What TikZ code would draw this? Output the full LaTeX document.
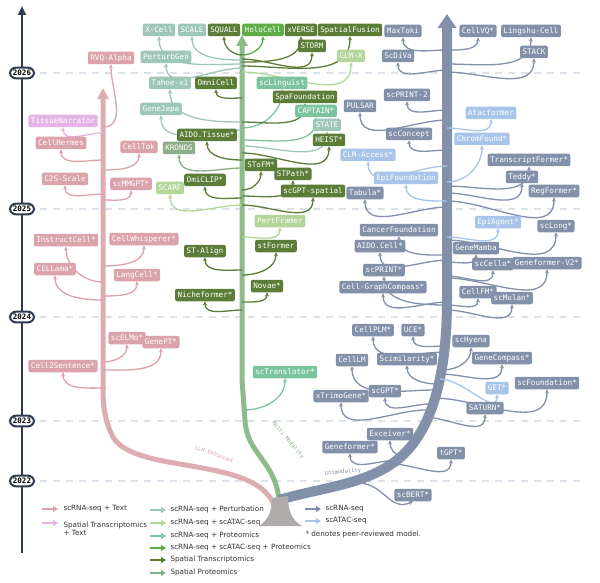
\documentclass[tikz,border=0pt]{standalone}
\usepackage{fontspec}
\setmainfont{DejaVu Sans}
\newfontfamily\boxfont{DejaVu Sans Mono}
\usetikzlibrary{arrows.meta}
\pgfdeclarelayer{back}
\pgfdeclarelayer{mid}
\pgfsetlayers{back,mid,main}
\definecolor{axc}{HTML}{2E3A52}
\definecolor{pk}{HTML}{DBA3AA}
\definecolor{pkt}{HTML}{DDADB2}
\definecolor{pv}{HTML}{E6B3E6}
\definecolor{pert}{HTML}{9EC7B8}
\definecolor{atac}{HTML}{B4D69A}
\definecolor{prot}{HTML}{7CC49E}
\definecolor{rap}{HTML}{5FAE45}
\definecolor{st}{HTML}{5C7D37}
\definecolor{sp}{HTML}{8AAE88}
\definecolor{gt}{HTML}{8DBB8A}
\definecolor{rna}{HTML}{8290AA}
\definecolor{ab}{HTML}{A8C5E9}
\definecolor{dashc}{HTML}{DDE1EA}
\definecolor{basec}{HTML}{B0ABAB}
\tikzset{
 box/.style={rounded corners=2pt,text=white,inner xsep=2.5pt,inner ysep=2pt,font=\boxfont\fontsize{7.6}{8}\selectfont,minimum height=12.5pt},
 br/.style={line width=1.3pt,-{Stealth[length=4pt,width=4pt]}},
 year/.style={draw=axc,line width=2pt,fill=white,rounded corners=6pt,font=\boxfont\bfseries\fontsize{7.5}{8}\selectfont,inner xsep=3pt,inner ysep=2.5pt},
 leg/.style={line width=2.2pt,-{Triangle[length=5pt,width=6pt]}},
 legt/.style={anchor=west,font=\fontsize{7.2}{8.5}\selectfont,text=black!80},
}
\newcommand\bL[4]{\coordinate (#1-t) at (#2,#3); \begin{pgfonlayer}{mid}\draw[br,#4] (#1-t) to[out=180,in=-90] (#1.south);\end{pgfonlayer}}
\newcommand\bR[4]{\coordinate (#1-t) at (#2,#3); \begin{pgfonlayer}{mid}\draw[br,#4] (#1-t) to[out=0,in=-90] (#1.south);\end{pgfonlayer}}
\begin{document}
\begin{tikzpicture}[x=1pt,y=-1pt]
\useasboundingbox (0,0) rectangle (600,583);
\begin{pgfonlayer}{back}
\fill[white] (0,0) rectangle (600,583);
\foreach \y in {73,209,317,421,481}{\draw[dashc,line width=1.8pt,dash pattern=on 7pt off 6pt] (40,\y) -- (585,\y);}
\end{pgfonlayer}
% axis
\coordinate (axb) at (22,553); \coordinate (axt) at (22,6);
\draw[axc,line width=2.5pt,-{Triangle[length=9pt,width=8pt]}] (axb) -- (axt);
\node[year] (y26) at (22,73) {2026};
\node[year] (y25) at (22,209) {2025};
\node[year] (y24) at (22,317) {2024};
\node[year] (y23) at (22,421) {2023};
\node[year] (y22) at (22,481) {2022};
% trunks
\coordinate (pkb) at (274,505); \coordinate (pktip) at (103,88);
\coordinate (gtb) at (279,500); \coordinate (gttip) at (242,35);
\coordinate (btb) at (279,500); \coordinate (bttip) at (447,14);
\begin{pgfonlayer}{mid}
\draw[pkt,line width=5pt,-{Triangle[length=11pt,width=11pt]}] (pkb) .. controls (255,455) and (130,475) .. (112,435) .. controls (104,418) and (103,405) .. (103,385) -- (pktip);
\draw[gt,line width=5pt,-{Triangle[length=11pt,width=11pt]}] (gtb) .. controls (275,460) and (247,455) .. (245,420) -- (242,380) -- (gttip);
\draw[rna,line width=10pt,-{Triangle[length=14pt,width=18pt]}] (btb) .. controls (320,488) and (360,485) .. (390,465) .. controls (430,440) and (447,380) .. (447,300) -- (bttip);
\fill[basec] (272,498) -- (288,496) .. controls (288,512) and (292,520) .. (302,526) -- (259,526) .. controls (268,520) and (272,512) .. (272,498) -- cycle;
\end{pgfonlayer}
% branch labels
\node[pk,rotate=-20,font=\boxfont\fontsize{5.5}{6}\selectfont] (lllm) at (214,454) {LLM Enhanced};
\node[sp,rotate=-50,font=\boxfont\fontsize{5.5}{6}\selectfont] (lmm) at (288,440) {Multi Modality};
\node[rna,rotate=5,font=\boxfont\fontsize{5.5}{6}\selectfont] (luni) at (343,472) {Unimodality};
% ---------------- pink
\node[box,fill=pk] (rvq) at (111,58) {RVQ-Alpha};
\node[box,fill=pv] (tn) at (63,121) {TissueNarrator};
\node[box,fill=pk] (ch) at (61,143) {CellHermes};
\node[box,fill=pk] (ctok) at (139,147) {CellTok};
\node[box,fill=pk] (c2s) at (65,179) {C2S-Scale};
\node[box,fill=pk] (mmg) at (131,184) {scMMGPT*};
\node[box,fill=pk] (ic) at (66,240) {InstructCell*};
\node[box,fill=pk] (cw) at (144,239) {CellWhisperer*};
\node[box,fill=pk] (cel) at (55,269) {CELLama*};
\node[box,fill=pk] (lc) at (137,275) {LangCell*};
\node[box,fill=pk] (elmo) at (127,338) {scELMo*};
\node[box,fill=pk] (gpt) at (161,342) {GenePT*};
\node[box,fill=pk] (c2sen) at (63,366) {Cell2Sentence*};
\bR{rvq}{103}{127}{pk}
\bL{tn}{103}{133}{pv}
\bL{ch}{103}{160}{pk}
\bR{ctok}{103}{170}{pk}
\bL{c2s}{103}{194}{pk}
\bR{mmg}{103}{200}{pk}
\bL{ic}{103}{282}{pk}
\bR{cw}{103}{266}{pk}
\bL{cel}{103}{300}{pk}
\bR{lc}{103}{296}{pk}
\bR{elmo}{103}{362}{pk}
\bR{gpt}{103}{370}{pk}
\bL{c2sen}{106}{388}{pk}
% ---------------- green
\node[box,fill=pert] (xc) at (159,30) {X-Cell};
\node[box,fill=pert] (scale) at (192,30) {SCALE};
\node[box,fill=st] (squall) at (224,30) {SQUALL};
\node[box,fill=rap] (holo) at (263,30) {HoloCell};
\node[box,fill=st] (xv) at (301,30) {xVERSE};
\node[box,fill=st] (sf) at (350,30) {SpatialFusion};
\node[box,fill=st] (storm) at (312,46) {STORM};
\node[box,fill=pert] (pgen) at (166,57) {PerturbGen};
\node[box,fill=atac] (clmx) at (351,56) {CLM-X};
\node[box,fill=pert] (tahoe) at (170,83) {Tahoe-x1};
\node[box,fill=st] (omni) at (216,83) {OmniCell};
\node[box,fill=prot] (ling) at (282,83) {scLinguist};
\node[box,fill=st] (spaf) at (305,97) {SpaFoundation};
\node[box,fill=pert] (gj) at (161,109) {GeneJepa};
\node[box,fill=prot] (capt) at (316,111) {CAPTAIN*};
\node[box,fill=pert] (state) at (327,125) {STATE};
\node[box,fill=st] (aido) at (207,135) {AIDO.Tissue*};
\node[box,fill=st] (heist) at (329,140) {HEIST*};
\node[box,fill=sp] (kron) at (179,148) {KRONOS};
\node[box,fill=st] (stofm) at (261,165) {SToFM*};
\node[box,fill=st] (stpath) at (293,174) {STPath*};
\node[box,fill=st] (oclip) at (205,180) {OmiCLIP*};
\node[box,fill=atac] (scarf) at (170,188) {SCARF};
\node[box,fill=st] (sgs) at (313,191) {scGPT-spatial};
\node[box,fill=atac] (pf) at (280,221) {PertFramer};
\node[box,fill=st] (sta) at (205,251) {ST-Align};
\node[box,fill=st] (stf) at (276,246) {stFormer};
\node[box,fill=st] (novae) at (267,286) {Novae*};
\node[box,fill=st] (niche) at (205,295) {Nicheformer*};
\node[box,fill=prot] (sctr) at (285,372) {scTranslator*};
\bL{xc}{242}{64}{pert}
\bL{scale}{242}{60}{pert}
\bL{squall}{242}{55}{st}
\bR{holo}{242}{55}{rap}
\bR{xv}{242}{62}{st}
\bR{sf}{242}{66}{st}
\bR{storm}{242}{59}{st}
\bL{pgen}{242}{68}{pert}
\bR{clmx}{242}{72}{atac}
\bL{tahoe}{242}{122}{pert}
\bL{omni}{242}{98}{st}
\bR{ling}{242}{128}{prot}
\bR{spaf}{242}{122}{st}
\bL{gj}{242}{130}{pert}
\bR{capt}{242}{140}{prot}
\bR{state}{242}{146}{pert}
\bL{aido}{242}{160}{st}
\bL{kron}{242}{168}{sp}
\bR{heist}{242}{153}{st}
\bR{stofm}{242}{190}{st}
\bR{stpath}{242}{196}{st}
\bL{oclip}{242}{198}{st}
\bL{scarf}{242}{205}{atac}
\bR{sgs}{242}{205}{st}
\bR{pf}{242}{237}{atac}
\bL{sta}{242}{270}{st}
\bR{stf}{242}{275}{st}
\bR{novae}{242}{302}{st}
\bL{niche}{242}{310}{st}
\bR{sctr}{244}{410}{prot}
% ---------------- blue
\node[box,fill=rna] (maxt) at (403,31) {MaxToki};
\node[box,fill=rna] (cvq) at (478,31) {CellVQ*};
\node[box,fill=rna] (ling2) at (531,31) {Lingshu-Cell};
\node[box,fill=rna] (sdv) at (398,56) {ScDiVa};
\node[box,fill=rna] (stack) at (534,52) {STACK};
\node[box,fill=rna] (spr2) at (407,95) {scPRINT-2};
\node[box,fill=rna] (puls) at (360,106) {PULSAR};
\node[box,fill=ab] (atf) at (491,113) {Atacformer};
\node[box,fill=rna] (scc) at (409,134) {scConcept};
\node[box,fill=ab] (chf) at (482,139) {ChromFound*};
\node[box,fill=ab] (clma) at (368,155) {CLM-Access*};
\node[box,fill=rna] (trf) at (529,160) {TranscriptFormer*};
\node[box,fill=rna] (teddy) at (522,177) {Teddy*};
\node[box,fill=ab] (epif) at (406,178) {EpiFoundation};
\node[box,fill=rna] (regf) at (554,191) {RegFormer*};
\node[box,fill=rna] (tab) at (365,193) {Tabula*};
\node[box,fill=ab] (epia) at (498,222) {EpiAgent*};
\node[box,fill=rna] (sclong) at (556,226) {scLong*};
\node[box,fill=rna] (canf) at (399,230) {CancerFoundation};
\node[box,fill=rna] (aidoc) at (380,246) {AIDO.Cell*};
\node[box,fill=rna] (gmam) at (476,248) {GeneMamba};
\node[box,fill=rna] (sccel) at (493,264) {scCello*};
\node[box,fill=rna] (gfv2) at (547,263) {Geneformer-V2*};
\node[box,fill=rna] (sprint) at (384,270) {scPRINT*};
\node[box,fill=rna] (cgc) at (383,287) {Cell-GraphCompass*};
\node[box,fill=rna] (cfm) at (478,292) {CellFM*};
\node[box,fill=rna] (mul) at (512,298) {scMulan*};
\node[box,fill=rna] (cplm) at (373,330) {CellPLM*};
\node[box,fill=rna] (uce) at (413,330) {UCE*};
\node[box,fill=rna] (hy) at (471,341) {scHyena};
\node[box,fill=rna] (clm) at (352,360) {CellLM};
\node[box,fill=rna] (scim) at (407,359) {Scimilarity*};
\node[box,fill=rna] (gc) at (502,358) {GeneCompass*};
\node[box,fill=ab] (get) at (497,388) {GET*};
\node[box,fill=rna] (scf) at (547,383) {scFoundation*};
\node[box,fill=rna] (scgpt) at (385,391) {scGPT*};
\node[box,fill=rna] (xtr) at (341,396) {xTrimoGene*};
\node[box,fill=rna] (sat) at (485,408) {SATURN*};
\node[box,fill=rna] (exc) at (390,434) {Exceiver*};
\node[box,fill=rna] (gf) at (350,447) {Geneformer*};
\node[box,fill=rna] (tgpt) at (451,453) {tGPT*};
\node[box,fill=rna] (bert) at (413,495) {scBERT*};
\bL{maxt}{447}{50}{rna}
\bR{cvq}{447}{50}{rna}
\bR{ling2}{447}{64}{rna}
\bL{sdv}{447}{70}{rna}
\bR{stack}{447}{72}{rna}
\bL{spr2}{447}{110}{rna}
\bL{puls}{447}{120}{rna}
\bR{atf}{447}{128}{ab}
\bL{scc}{447}{150}{rna}
\bR{chf}{447}{182}{ab}
\bL{clma}{447}{166}{ab}
\bR{trf}{447}{186}{rna}
\bR{teddy}{447}{193}{rna}
\bL{epif}{447}{201}{ab}
\bR{regf}{447}{201}{rna}
\bL{tab}{447}{207}{rna}
\bR{epia}{447}{237}{ab}
\bR{sclong}{447}{240}{rna}
\bL{canf}{447}{255}{rna}
\bL{aidoc}{447}{260}{rna}
\bR{gmam}{447}{262}{rna}
\bR{sccel}{447}{276}{rna}
\bR{gfv2}{447}{278}{rna}
\bL{sprint}{447}{305}{rna}
\bL{cgc}{447}{302}{rna}
\bR{cfm}{447}{305}{rna}
\bR{mul}{447}{310}{rna}
\bL{cplm}{445}{352}{rna}
\bL{uce}{445}{346}{rna}
\bR{hy}{443}{370}{rna}
\bL{clm}{434}{390}{rna}
\bL{scim}{437}{384}{rna}
\bR{gc}{441}{374}{rna}
\bR{get}{440}{379}{ab}
\bR{scf}{434}{398}{rna}
\bL{scgpt}{430}{404}{rna}
\bL{xtr}{426}{410}{rna}
\bR{sat}{424}{417}{rna}
\bL{exc}{402}{456}{rna}
\bL{gf}{398}{460}{rna}
\bR{tgpt}{392}{464}{rna}
\coordinate (bert-t) at (360,483);
\begin{pgfonlayer}{mid}\draw[br,rna] (bert-t) .. controls (385,485) and (390,512) .. (bert.south);\end{pgfonlayer}
% ---------------- legend
\foreach \n/\c/\y/\xa in {l1/pk/509/42,l2/pv/523/42,m1/pert/510/150,m2/atac/523/150,m3/prot/536/150,m4/rap/548/150,m5/st/560/150,m6/sp/573/150,r1/rna/509/305,r2/ab/521/305}{
 \coordinate (\n a) at (\xa,\y); \coordinate (\n b) at (\xa+16,\y);
 \draw[leg,\c] (\n a) -- (\n b);}
\node[legt] (t1) at (60,509) {scRNA-seq + Text};
\node[legt,align=left] (t2) at (60,529) {Spatial Transcriptomics\\+ Text};
\node[legt] (t3) at (167,510) {scRNA-seq + Perturbation};
\node[legt] (t4) at (167,523) {scRNA-seq + scATAC-seq};
\node[legt] (t5) at (167,536) {scRNA-seq + Proteomics};
\node[legt] (t6) at (167,548) {scRNA-seq + scATAC-seq + Proteomics};
\node[legt] (t7) at (167,560) {Spatial Transcriptomics};
\node[legt] (t8) at (167,573) {Spatial Proteomics};
\node[legt] (t9) at (322,509) {scRNA-seq};
\node[legt] (t10) at (322,521) {scATAC-seq};
\node[legt] (t11) at (302,535) {* denotes peer-reviewed model.};
\end{tikzpicture}
\end{document}
